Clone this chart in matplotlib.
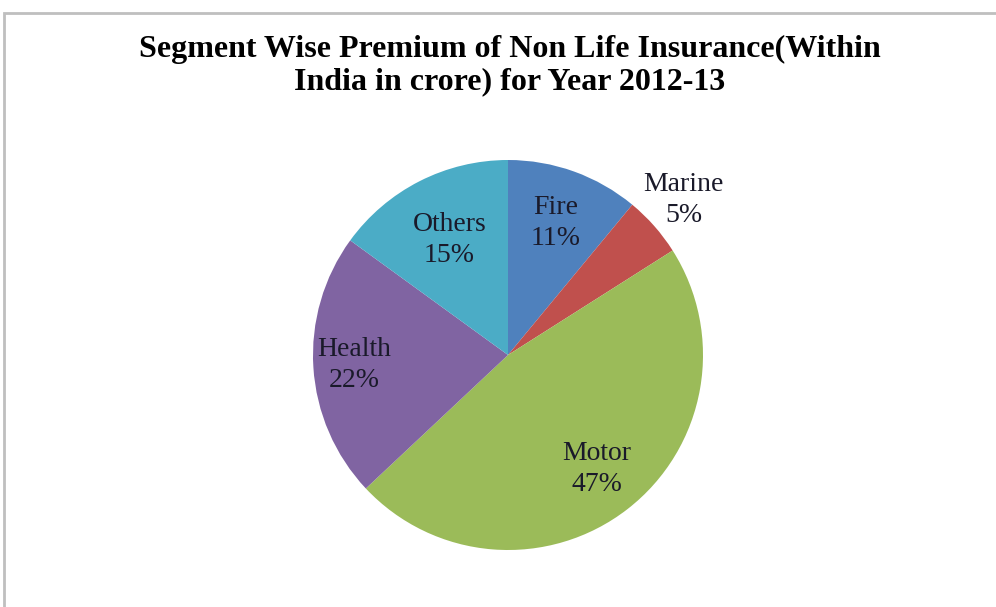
import matplotlib
matplotlib.use("Agg")
import matplotlib.pyplot as plt
from matplotlib.patches import Rectangle
import numpy as np

segments = ["Fire", "Marine", "Motor", "Health", "Others"]
shares = [11, 5, 47, 22, 15]
colors = ["#4F81BD", "#C0504D", "#9BBB59", "#8064A2", "#4BACC6"]
label_r = [0.72, 1.2, 0.74, 0.79, 0.66]  # radial label position per wedge

fig = plt.figure(figsize=(9.96, 6.07), dpi=100)
fig.patches.append(Rectangle((4 / 996, -0.1), 1.2, 1 - 13 / 607 + 0.1, transform=fig.transFigure,
                             fill=False, edgecolor="#BFBFBF", lw=2))

fig.text(0.512, 1 - 66 / 607,
         "Segment Wise Premium of Non Life Insurance(Within\nIndia in crore) for Year 2012-13",
         ha="center", va="center", family="Liberation Serif", weight="bold", fontsize=23,
         linespacing=1.15)

ax = fig.add_axes([313 / 996, (607 - 355 - 195) / 607, 390 / 996, 390 / 607])
wedges, _ = ax.pie(shares, colors=colors, startangle=90, counterclock=False,
                   wedgeprops=dict(linewidth=0))
ax.set_xlim(-1, 1); ax.set_ylim(-1, 1); ax.set_aspect("equal")

for w, name, v, r in zip(wedges, segments, shares, label_r):
    a = np.deg2rad((w.theta1 + w.theta2) / 2)
    ax.text(r * np.cos(a), r * np.sin(a), f"{name}\n{v}%", ha="center", va="center",
            family="Liberation Serif", fontsize=20, color="#1a1a2a", linespacing=1.3)

fig.savefig("out.png", dpi=100)
